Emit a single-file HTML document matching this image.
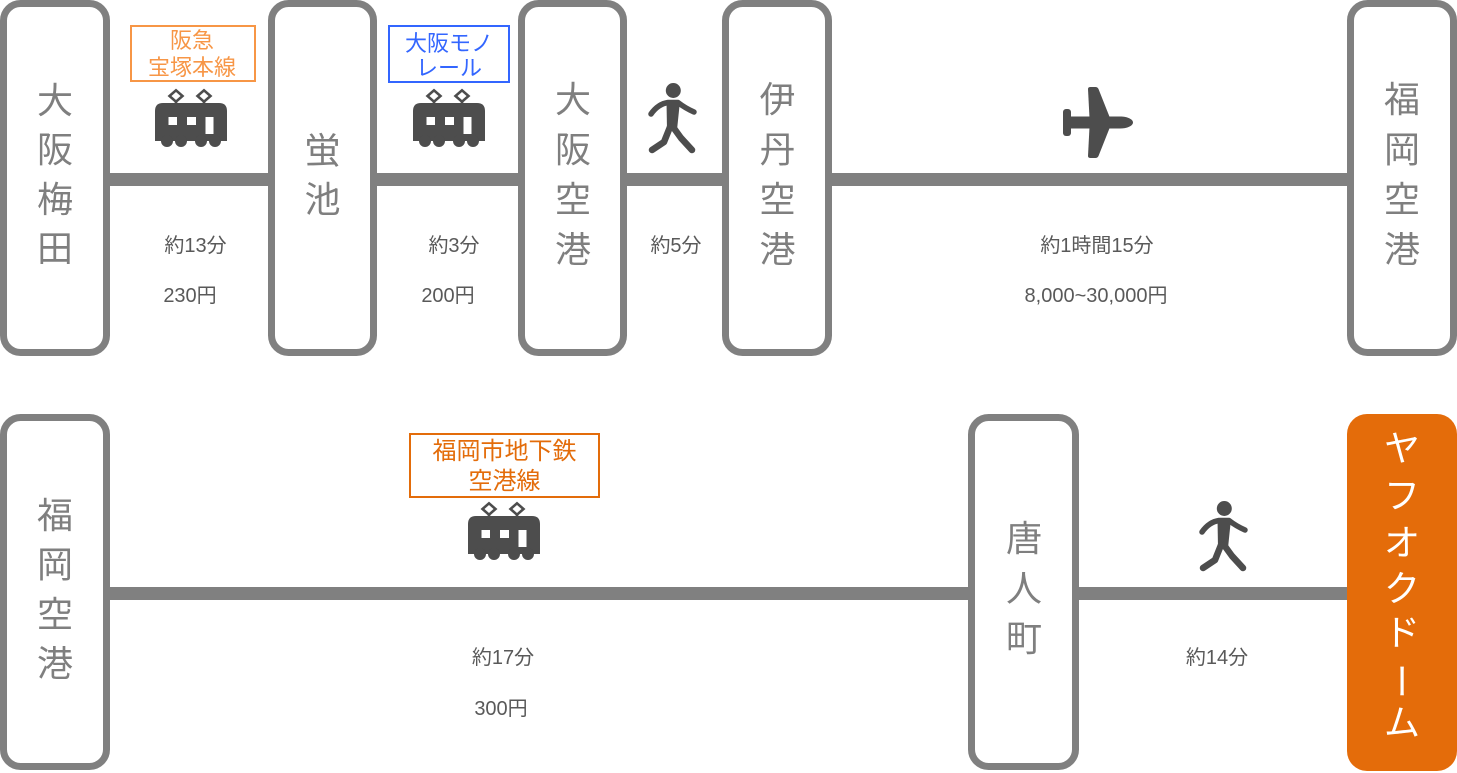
<!DOCTYPE html>
<html>
<head>
<meta charset="utf-8">
<style>
html,body{margin:0;padding:0;background:#fff;}
body{width:1457px;height:773px;overflow:hidden;}
svg{display:block;}
.st{font-family:"Liberation Sans","Noto Sans CJK JP",sans-serif;font-size:36px;fill:#7f7f7f;text-anchor:middle;}
.lb{font-family:"Liberation Sans","Noto Sans CJK JP",sans-serif;font-size:20px;fill:#595959;text-anchor:middle;}
.ln{font-family:"Liberation Sans","Noto Sans CJK JP",sans-serif;text-anchor:middle;}
</style>
</head>
<body>
<svg width="1457" height="773" viewBox="0 0 1457 773" xmlns="http://www.w3.org/2000/svg">
<defs>
  <g id="train">
    <path d="M8 14 H64 Q72 14 72 22 V52 H0 V22 Q0 14 8 14 Z" fill="#4d4d4d"/>
    <circle cx="12" cy="52" r="6" fill="#4d4d4d"/>
    <circle cx="26" cy="52" r="6" fill="#4d4d4d"/>
    <circle cx="46" cy="52" r="6" fill="#4d4d4d"/>
    <circle cx="60" cy="52" r="6" fill="#4d4d4d"/>
    <rect x="13.5" y="28" width="8.5" height="8" fill="#fff"/>
    <rect x="32" y="28" width="9" height="8" fill="#fff"/>
    <rect x="50.5" y="28" width="8" height="17" fill="#fff"/>
    <path d="M21 1.3 L27.5 7 L21 12.7 L14.5 7 Z" fill="none" stroke="#4d4d4d" stroke-width="2.6" stroke-linejoin="miter"/>
    <path d="M49 1.3 L55.5 7 L49 12.7 L42.5 7 Z" fill="none" stroke="#4d4d4d" stroke-width="2.6" stroke-linejoin="miter"/>
    <rect x="19.7" y="12" width="2.6" height="3" fill="#4d4d4d"/>
    <rect x="47.7" y="12" width="2.6" height="3" fill="#4d4d4d"/>
  </g>
  <g id="walker">
    <circle cx="26.3" cy="7.5" r="7.5" fill="#4d4d4d"/>
    <path d="M4 31 Q11 21 21 19.5 L31 19.5 Q38 25 47 29" fill="none" stroke="#4d4d4d" stroke-width="5.5" stroke-linecap="round" stroke-linejoin="round"/>
    <path d="M19.5 18 L33 18 L30 47 L20 47 Z" fill="#4d4d4d"/>
    <path d="M23 44 L17 59 L5 67" fill="none" stroke="#4d4d4d" stroke-width="6.5" stroke-linecap="round" stroke-linejoin="round"/>
    <path d="M26 44 L34 55 L45 67" fill="none" stroke="#4d4d4d" stroke-width="6.5" stroke-linecap="round" stroke-linejoin="round"/>
  </g>
</defs>

<!-- connector lines -->
<rect x="108" y="173" width="1241" height="13" fill="#808080"/>
<rect x="108" y="587" width="1241" height="13" fill="#808080"/>

<!-- top station boxes -->
<g fill="#fff" stroke="#808080" stroke-width="7">
  <rect x="3.5" y="3.5" width="103" height="349" rx="17"/>
  <rect x="271.5" y="3.5" width="102" height="349" rx="17"/>
  <rect x="521.5" y="3.5" width="102" height="349" rx="17"/>
  <rect x="725.5" y="3.5" width="103" height="349" rx="17"/>
  <rect x="1350.5" y="3.5" width="103" height="349" rx="17"/>
  <rect x="3.5" y="417.5" width="103" height="349" rx="17"/>
  <rect x="971.5" y="417.5" width="104" height="349" rx="17"/>
</g>
<rect x="1347" y="414" width="110" height="357" rx="20" fill="#e46c0a"/>

<!-- station names -->
<g class="st">
  <text x="55" y="113">大</text><text x="55" y="162">阪</text><text x="55" y="212">梅</text><text x="55" y="261">田</text>
  <text x="322.5" y="163">蛍</text><text x="322.5" y="212">池</text>
  <text x="573" y="112">大</text><text x="573" y="162">阪</text><text x="573" y="212">空</text><text x="573" y="262">港</text>
  <text x="777.5" y="112">伊</text><text x="777.5" y="162">丹</text><text x="777.5" y="212">空</text><text x="777.5" y="262">港</text>
  <text x="1402" y="112">福</text><text x="1402" y="162">岡</text><text x="1402" y="212">空</text><text x="1402" y="262">港</text>
  <text x="55" y="528">福</text><text x="55" y="577">岡</text><text x="55" y="627">空</text><text x="55" y="676">港</text>
  <text x="1024" y="551">唐</text><text x="1024" y="601">人</text><text x="1024" y="651">町</text>
</g>
<g class="st" style="fill:#fff">
  <text x="1402" y="461">ヤ</text>
  <text x="1402" y="508">フ</text>
  <text x="1402" y="555">オ</text>
  <text x="1402" y="601">ク</text>
  <text x="1402" y="645">ド</text>
  <text x="1402" y="694.7" transform="rotate(90 1402 681)">ー</text>
  <text x="1402" y="735">ム</text>
</g>

<!-- line name boxes -->
<rect x="131" y="26" width="124" height="55" fill="#fff" stroke="#f79646" stroke-width="2"/>
<text class="ln" x="192" y="48" font-size="22" fill="#f79646">阪急</text>
<text class="ln" x="192" y="75" font-size="22" fill="#f79646">宝塚本線</text>

<rect x="389" y="26" width="120" height="56" fill="#fff" stroke="#3366ff" stroke-width="2"/>
<text class="ln" x="449" y="51" font-size="22" fill="#3366ff">大阪モノ</text>
<text class="ln" x="449" y="75.5" font-size="22" fill="#3366ff">レール</text>

<rect x="410" y="434" width="189" height="63" fill="#fff" stroke="#e36c0a" stroke-width="2"/>
<text class="ln" x="504.5" y="459" font-size="24" fill="#e36c0a">福岡市地下鉄</text>
<text class="ln" x="504.5" y="489" font-size="24" fill="#e36c0a">空港線</text>

<!-- icons -->
<use href="#train" x="155" y="89"/>
<use href="#train" x="413" y="89"/>
<use href="#train" x="468" y="502"/>
<use href="#walker" x="647" y="83"/>
<use href="#walker" x="1198" y="501"/>

<!-- airplane -->
<g transform="translate(1062,87)" fill="#4d4d4d">
  <path d="M5 29.5 L58 29.5 C66 29.5 71 32.5 71 35.5 C71 38.5 66 41.5 58 41.5 L5 41.5 Z"/>
  <rect x="1" y="22" width="8" height="27" rx="3"/>
  <path d="M26 2 Q26 0 28.5 0 L33.5 0 Q35.5 0 36.5 2 L48 31 L27.5 31 Z"/>
  <path d="M26 69 Q26 71 28.5 71 L33.5 71 Q35.5 71 36.5 69 L48 40 L27.5 40 Z"/>
</g>

<!-- time / fare labels -->
<g class="lb">
  <text x="195.5" y="252">約13分</text>
  <text x="190" y="302">230円</text>
  <text x="454" y="252">約3分</text>
  <text x="448" y="302">200円</text>
  <text x="676" y="252">約5分</text>
  <text x="1097" y="252">約1時間15分</text>
  <text x="1096" y="302">8,000~30,000円</text>
  <text x="503" y="664">約17分</text>
  <text x="501" y="715">300円</text>
  <text x="1217" y="664">約14分</text>
</g>
</svg>
</body>
</html>
